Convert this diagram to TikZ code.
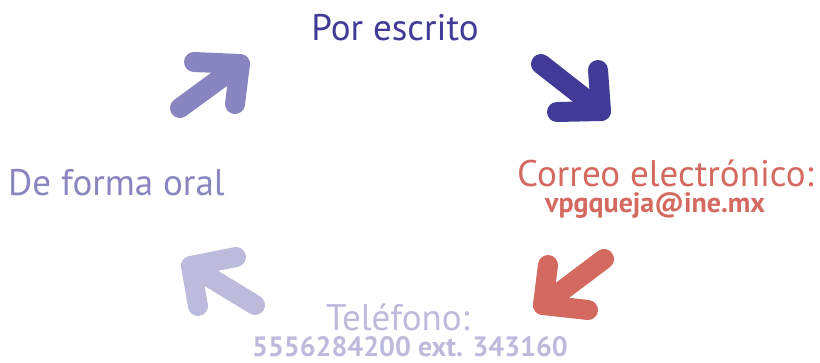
\documentclass[tikz,border=0pt]{standalone}
\usepackage{fontspec}
\setmainfont{PT Sans}
\definecolor{cdark}{HTML}{413B97}
\definecolor{cmid}{HTML}{8985C0}
\definecolor{cred}{HTML}{D4695F}
\definecolor{clight}{HTML}{BDBBDC}
\tikzset{
  arr/.style={line width=20pt, line cap=round, line join=round},
  big/.style={inner sep=0pt, font=\fontsize{37}{40}\selectfont},
  small/.style={inner sep=0pt, font=\bfseries\fontsize{28}{30}\selectfont},
}
\begin{document}
\begin{tikzpicture}[x=1pt,y=-1pt]
\useasboundingbox (0,0) rectangle (820,362);
% texts
\node[big, text=cdark, anchor=base] (por) at (395,40) {Por escrito};
\node[big, text=cmid, anchor=base west] (oral) at (8,195) {De forma oral};
\node[big, text=cred, anchor=base west] (correo) at (517,186) {Correo electrónico:};
\node[small, text=cred, anchor=base west] (mail) at (545,212) {vpgqueja@ine.mx};
\node[big, text=clight, anchor=base] (tel) at (398,330) {Teléfono:};
\node[small, text=clight, anchor=base] (num) at (410,356) {5556284200 ext. 343160};
% arrows
\coordinate (a1s) at (180,108); \coordinate (a1t) at (240,64);
\coordinate (a1p) at (194,62); \coordinate (a1q) at (235,104);
\draw[arr, cmid] (a1s) -- (a1t);
\draw[arr, cmid] (a1p) -- (a1t) -- (a1q);
\coordinate (a2s) at (541,64); \coordinate (a2t) at (601,111);
\coordinate (a2p) at (598,70); \coordinate (a2q) at (557,112);
\draw[arr, cdark] (a2s) -- (a2t);
\draw[arr, cdark] (a2p) -- (a2t) -- (a2q);
\coordinate (a3s) at (604,259); \coordinate (a3t) at (543,305);
\coordinate (a3p) at (548,265); \coordinate (a3q) at (588,310);
\draw[arr, cred] (a3s) -- (a3t);
\draw[arr, cred] (a3p) -- (a3t) -- (a3q);
\coordinate (a4s) at (255,305); \coordinate (a4t) at (191,266);
\coordinate (a4p) at (236,257); \coordinate (a4q) at (198,306);
\draw[arr, clight] (a4s) -- (a4t);
\draw[arr, clight] (a4p) -- (a4t) -- (a4q);
\end{tikzpicture}
\end{document}
